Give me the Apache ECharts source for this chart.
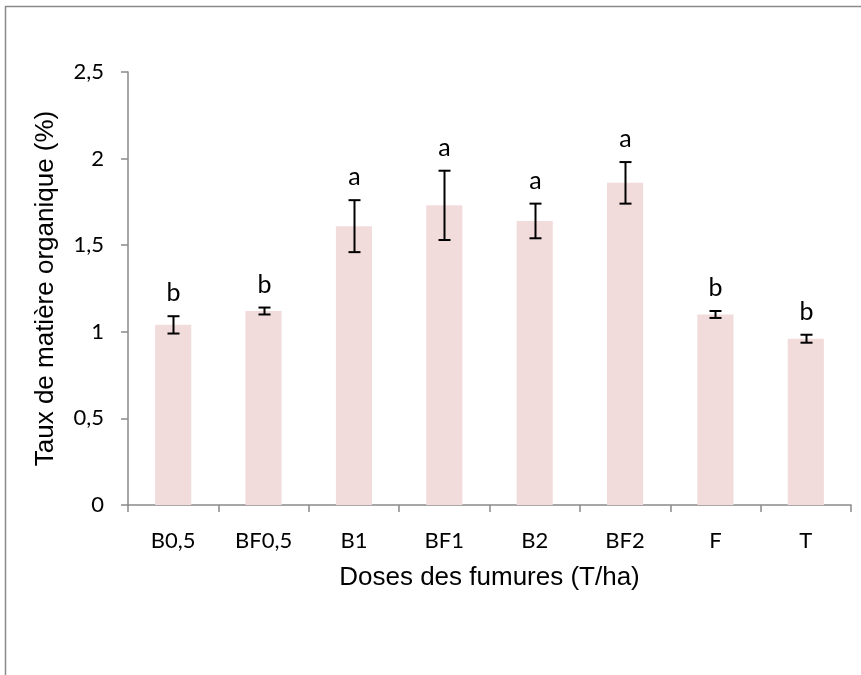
<!DOCTYPE html>
<html>
<head>
<meta charset="utf-8">
<script src="https://cdn.jsdelivr.net/npm/echarts@6/dist/echarts.min.js"></script>
<style>html,body{margin:0;padding:0;background:#fff}#c{width:861px;height:675px}</style>
</head>
<body>
<div id="c"></div>
<script>
const categories = ['B0,5','BF0,5','B1','BF1','B2','BF2','F','T'];
const means = [1.04, 1.12, 1.61, 1.73, 1.64, 1.86, 1.10, 0.96];
const errors = [0.05, 0.02, 0.15, 0.20, 0.10, 0.12, 0.02, 0.023];
const letters = ['b','b','a','a','a','a','b','b'];
const yTicks = ['0','0,5','1','1,5','2','2,5'];

const chart = echarts.init(document.getElementById('c'));
const errData = categories.map((c, i) => [i, means[i] - errors[i], means[i] + errors[i], letters[i]]);
chart.setOption({
  animation: false,
  graphic: [{
    type: 'rect', shape: {x: 5.5, y: 6.5, width: 900, height: 700},
    style: {fill: 'none', stroke: '#8a8a8a', lineWidth: 1.5}, silent: true, z: -1
  }],
  grid: {left: 128, top: 72, right: 10, bottom: 170},
  xAxis: {
    type: 'category', data: categories,
    name: 'Doses des fumures (T/ha)', nameLocation: 'middle', nameGap: 60,
    nameTextStyle: {fontFamily: 'Liberation Sans', fontSize: 26, color: '#000'},
    axisLine: {lineStyle: {color: '#8a8a8a', width: 1.5}},
    axisTick: {show: true, length: 7, lineStyle: {color: '#8a8a8a', width: 1.5}, alignWithLabel: false},
    axisLabel: {fontFamily: 'Lato', fontSize: 22, color: '#000', margin: 25}
  },
  yAxis: {
    type: 'value', min: 0, max: 2.5, interval: 0.5,
    name: 'Taux de matière organique (%)', nameLocation: 'middle', nameGap: 69,
    nameTextStyle: {fontFamily: 'Liberation Sans', fontSize: 26, color: '#000'},
    splitLine: {show: false},
    axisLine: {show: true, lineStyle: {color: '#8a8a8a', width: 1.5}},
    axisTick: {show: true, length: 7, lineStyle: {color: '#8a8a8a', width: 1.5}},
    axisLabel: {fontFamily: 'Lato', fontSize: 22, color: '#000', margin: 24,
      formatter: (v) => yTicks[Math.round(v / 0.5)]}
  },
  series: [{
    type: 'bar', data: means, barWidth: '40%',
    itemStyle: {color: '#f2dcdb'}
  }, {
    type: 'custom', data: errData, z: 10,
    renderItem: function (params, api) {
      const x = api.value(0);
      const lo = api.coord([x, api.value(1)]);
      const hi = api.coord([x, api.value(2)]);
      const cx = Math.round(lo[0]) + 0.5;
      const hw = 6;
      const st = {stroke: '#000', lineWidth: 2};
      return {type: 'group', children: [
        {type: 'line', shape: {x1: cx, y1: hi[1], x2: cx, y2: lo[1]}, style: st},
        {type: 'line', shape: {x1: cx - hw, y1: hi[1], x2: cx + hw, y2: hi[1]}, style: st},
        {type: 'line', shape: {x1: cx - hw, y1: lo[1], x2: cx + hw, y2: lo[1]}, style: st},
        {type: 'text', style: {text: letters[params.dataIndex], x: cx, y: hi[1] - 23,
          align: 'center', verticalAlign: 'middle', fontFamily: 'Lato', fontSize: 25, fill: '#000'}}
      ]};
    }
  }]
});
</script>
</body>
</html>
